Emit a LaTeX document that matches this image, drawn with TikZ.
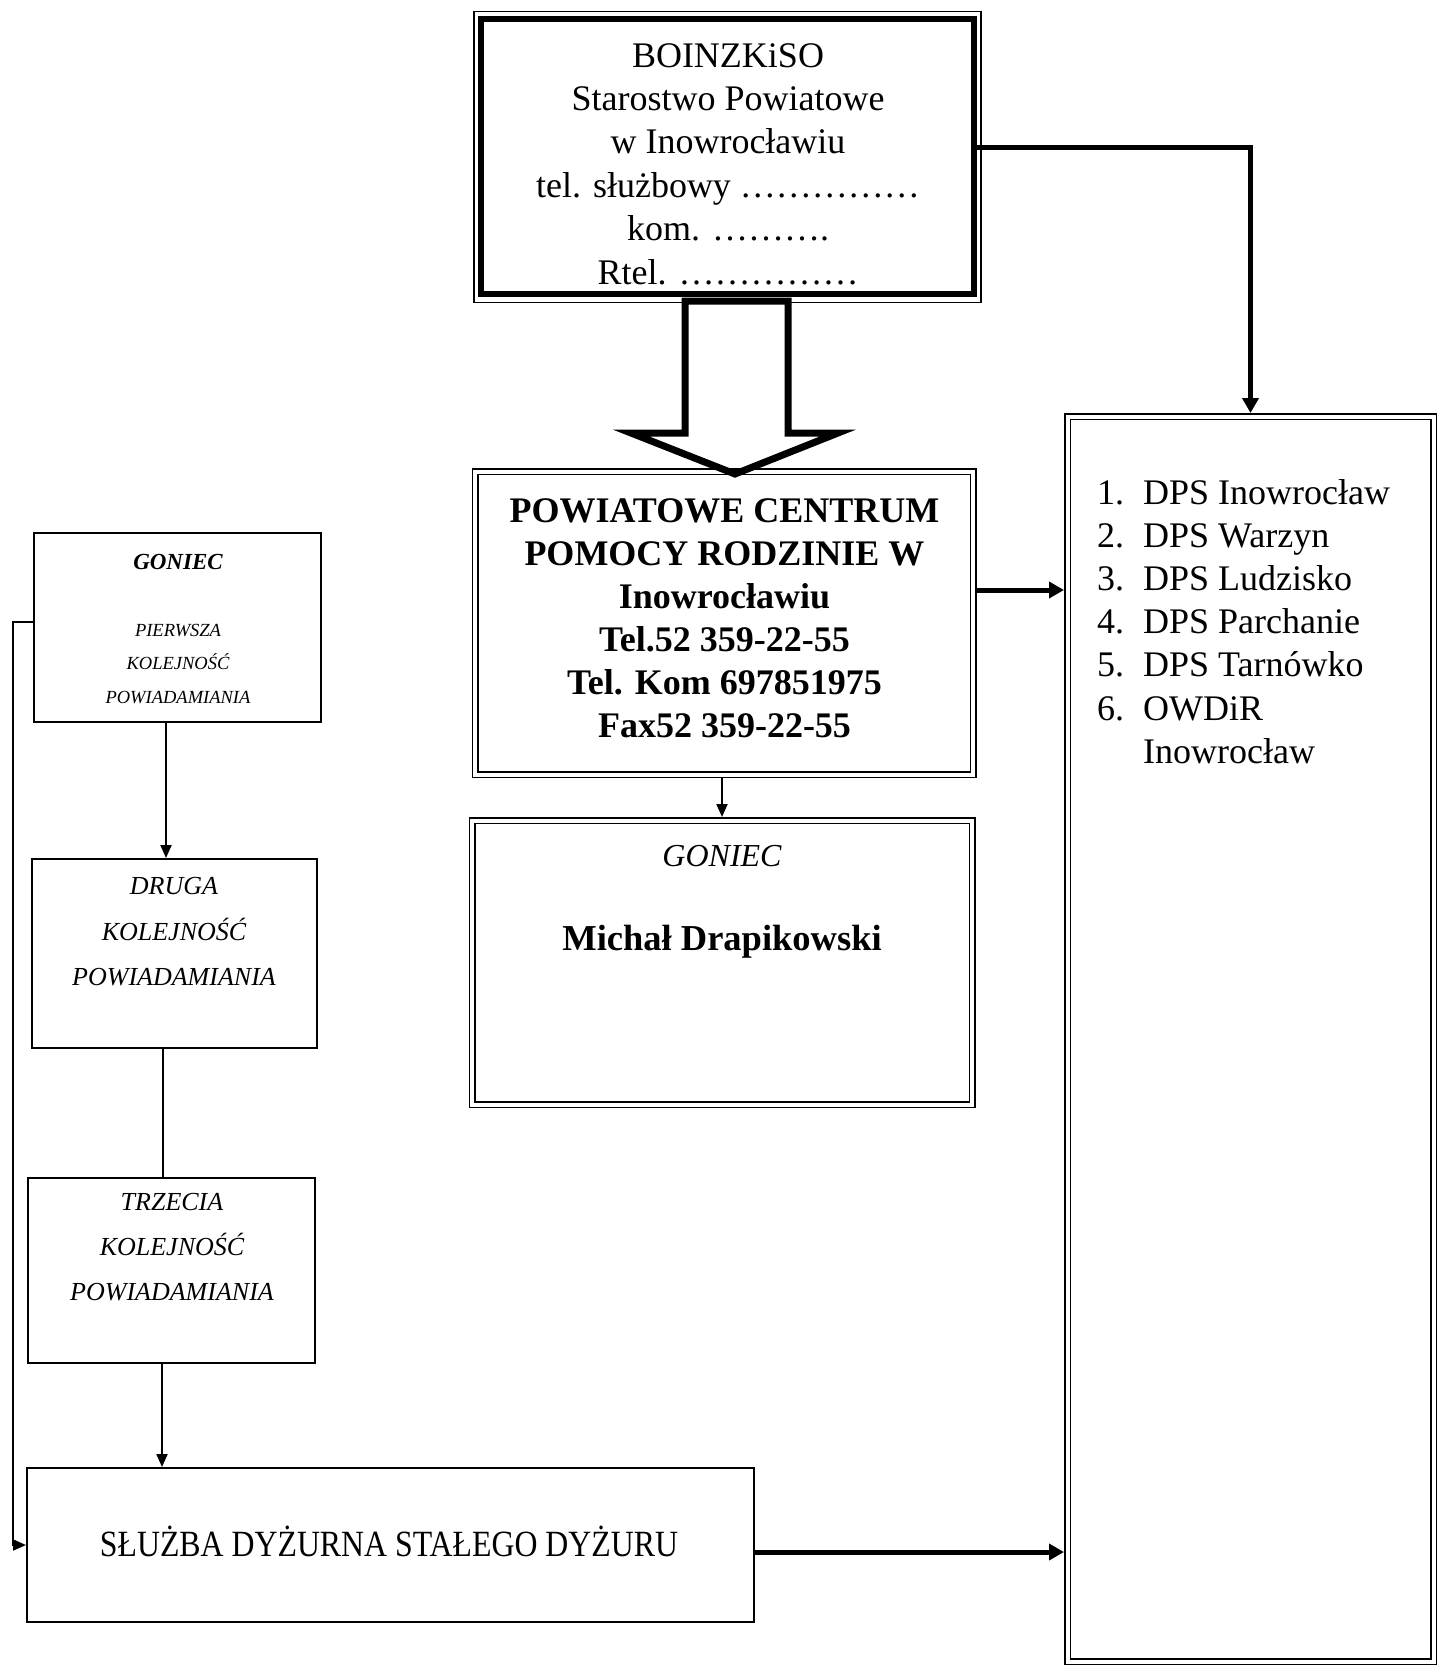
\documentclass[tikz,border=0pt]{standalone}
\usepackage{fontspec}
\setmainfont{Liberation Serif}
\usepackage{graphicx}
\usetikzlibrary{arrows.meta}
\begin{document}
\begin{tikzpicture}[x=1pt,y=-1pt,
  thickbox/.style={draw, line width=6pt, inner sep=0pt, outer sep=0pt},
  dblbox/.style={draw, double, line width=1.5pt, double distance=4pt, inner sep=0pt, outer sep=3.5pt},
  thinbox/.style={draw, line width=2pt, inner sep=0pt, outer sep=1pt},
  txt/.style={inner sep=0pt, align=center},
  conn/.style={line width=2pt, -{Triangle[length=13pt,width=11pt]}},
  plainline/.style={line width=2pt},
  bigconn/.style={line width=5pt, -{Triangle[length=15pt,width=16pt]}},
  blockarrow/.style={line width=7pt, line join=miter}
]
\fill[white] (0,0) rectangle (1445,1667);
\useasboundingbox (0,0) rectangle (1445,1667);

% helper coordinates
\coordinate (ytop) at (0,147);
\coordinate (ypc) at (0,590);
\coordinate (ysl) at (0,1552);
\coordinate (xg) at (722,0);
\coordinate (xa) at (166,0);
\coordinate (xb) at (163,0);
\coordinate (xc) at (162,0);
\coordinate (loop) at (13,622);

% top box
\node[thickbox, minimum width=493pt, minimum height=275pt] (top) at (727.5,156.5) {};
\draw[line width=1.5pt] ([xshift=-7pt,yshift=7.5pt]top.north west) rectangle ([xshift=7pt,yshift=-8.5pt]top.south east);
\node[txt, anchor=north, font=\fontsize{36}{43.4}\selectfont] (toptxt) at (728,43)
  {BOINZKiSO\\Starostwo Powiatowe\\w Inowrocławiu\\tel. służbowy ……………\\kom. ……….\\Rtel. ……………};

% PCPR box
\node[dblbox, minimum width=498pt, minimum height=303pt] (pcpr) at (724,623) {};
\node[txt, anchor=north, font=\bfseries\fontsize{36}{43}\selectfont] (pcprtxt) at (724.5,498)
  {POWIATOWE CENTRUM\\POMOCY RODZINIE W\\Inowrocławiu\\Tel.52 359-22-55\\Tel. Kom 697851975\\Fax52 359-22-55};

% Goniec box
\node[dblbox, minimum width=500pt, minimum height=284pt] (gon) at (722,962.5) {};
\node[txt, anchor=base, font=\itshape\fontsize{32}{38}\selectfont] (gontitle) at (722,866) {GONIEC};
\node[txt, anchor=base, font=\bfseries\fontsize{36.5}{43}\selectfont] (gonname) at (722,950) {Michał Drapikowski};

% DPS box
\node[dblbox, minimum width=366pt, minimum height=1245pt] (dps) at (1250.5,1039) {};
\node[inner sep=0pt, anchor=north west, align=left, font=\fontsize{36}{43.2}\selectfont] (dpstxt) at (1097,479)
  {\makebox[46pt][l]{1.}DPS Inowrocław\\
   \makebox[46pt][l]{2.}DPS Warzyn\\
   \makebox[46pt][l]{3.}DPS Ludzisko\\
   \makebox[46pt][l]{4.}DPS Parchanie\\
   \makebox[46pt][l]{5.}DPS Tarnówko\\
   \makebox[46pt][l]{6.}OWDiR\\
   \hspace*{46pt}Inowrocław};

% left boxes
\node[thinbox, minimum width=287pt, minimum height=189pt] (g1) at (177.5,627.5) {};
\node[txt, anchor=base, font=\bfseries\itshape\fontsize{23}{27}\selectfont] (g1title) at (178,569.5) {GONIEC};
\node[txt, anchor=north, font=\itshape\fontsize{18.5}{33.5}\selectfont] (g1txt) at (178,624)
  {PIERWSZA\\KOLEJNOŚĆ\\POWIADAMIANIA};

\node[thinbox, minimum width=285pt, minimum height=189pt] (druga) at (174.5,953.5) {};
\node[txt, anchor=north, font=\itshape\fontsize{26}{45.7}\selectfont] (drugatxt) at (174,877)
  {DRUGA\\KOLEJNOŚĆ\\POWIADAMIANIA};

\node[thinbox, minimum width=287pt, minimum height=185pt] (trzecia) at (171.5,1270) {};
\node[txt, anchor=north, font=\itshape\fontsize{26}{44.7}\selectfont] (trzeciatxt) at (172,1193.5)
  {TRZECIA\\KOLEJNOŚĆ\\POWIADAMIANIA};

\node[thinbox, minimum width=727pt, minimum height=154pt] (sluzba) at (390.5,1545) {};
\node[txt, anchor=base, font=\fontsize{37}{44}\selectfont] (sluzbatxt) at (389,1556)
  {\scalebox{0.86}[1]{SŁUŻBA DYŻURNA STAŁEGO DYŻURU}};

% connectors
\draw[bigconn] (top.east |- ytop) -| (dps.north);
\draw[bigconn] (pcpr.east |- ypc) -- (dps.west |- ypc);
\draw[bigconn] (sluzba.east |- ysl) -- (dps.west |- ysl);
\draw[conn] (pcpr.south -| xg) -- (gon.north -| xg);
\draw[conn] (g1.south -| xa) -- (druga.north -| xa);
\draw[plainline] (druga.south -| xb) -- (trzecia.north -| xb);
\draw[conn] (trzecia.south -| xc) -- (sluzba.north -| xc);
\draw[conn] (g1.west |- loop) -- (loop) |- (sluzba.west);

% block arrow from top box to PCPR
\draw[blockarrow] (685,301) -- (685,433) -- (631,433) -- (735,474) -- (838,433) -- (788,433) -- (788,301) -- cycle;
\end{tikzpicture}
\end{document}
